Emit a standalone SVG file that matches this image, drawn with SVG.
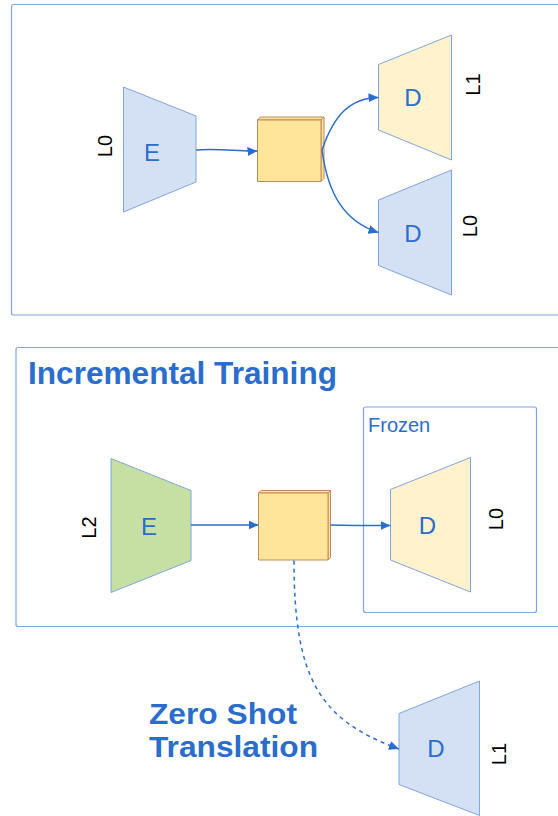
<svg xmlns="http://www.w3.org/2000/svg" width="558" height="816" viewBox="0 0 558 816">
  <style>
    .panel { fill: none; stroke: #7ea6e0; stroke-width: 1.2; }
    .trap { stroke: #7ea6e0; stroke-width: 1; }
    .blue { fill: #d4e1f5; }
    .yellow { fill: #fff2cc; }
    .green { fill: #c6e0a4; }
    .cube { fill: #ffe599; stroke: #c08a5c; stroke-width: 1; stroke-linejoin: round; }
    .letter { font-family: "Liberation Sans", Arial, sans-serif; font-size: 24px; fill: #2b6dcd; text-anchor: middle; }
    .lang { font-family: "Liberation Sans", Arial, sans-serif; font-size: 20px; fill: #000; text-anchor: middle; }
    .title { font-family: "Liberation Sans", Arial, sans-serif; font-weight: bold; fill: #2b6dcd; font-size: 31.6px; }
    .subtitle { font-family: "Liberation Sans", Arial, sans-serif; font-weight: bold; fill: #2b6dcd; font-size: 29px; }
    .caption { font-family: "Liberation Sans", Arial, sans-serif; fill: #2b6dcd; font-size: 20px; }
    .wire { fill: none; stroke: #2b6dcd; stroke-width: 1.5; }
    .dash { stroke-dasharray: 4 4; }
  </style>
  <defs>
    <marker id="arrow" markerUnits="userSpaceOnUse" markerWidth="10" markerHeight="9" refX="10" refY="4.5" orient="auto">
      <path d="M0,0 L10,4.5 L0,9 z" fill="#2b6dcd"/>
    </marker>
  </defs>

  <rect fill="#ffffff" x="0" y="0" width="558" height="816"/>

  <!-- panels and headings -->
  <g id="panels">
    <rect class="panel" x="11.5" y="4.5" width="560" height="310.5" rx="2"/>
    <rect class="panel" x="16" y="347.5" width="560" height="279" rx="2"/>
    <rect class="panel" x="363.5" y="407" width="173" height="205.5" rx="2"/>
    <text class="title" x="28" y="384">Incremental Training</text>
    <text class="caption" x="368" y="432">Frozen</text>
    <text class="subtitle" x="149" y="723.8" textLength="148" lengthAdjust="spacingAndGlyphs">Zero Shot</text>
    <text class="subtitle" x="149" y="757.2" textLength="169" lengthAdjust="spacingAndGlyphs">Translation</text>
  </g>

  <!-- top: encoder L0 -> latent -> decoders L1 / L0 -->
  <g id="enc-top">
    <polygon class="trap blue" points="123.5,87 196,116 196,182 123.5,212"/>
    <text class="letter" x="152" y="161">E</text>
    <text class="lang" x="105" y="153" transform="rotate(-90 105 146)">L0</text>
  </g>
  <g id="latent-top">
    <polygon class="cube" points="257.5,120 260.5,117 324,117 321,120"/>
    <polygon class="cube" points="321,120 324,117 324,178.5 321,181.5"/>
    <rect class="cube" x="257.5" y="120" width="63.5" height="61.5"/>
  </g>
  <g id="dec-top-l1">
    <polygon class="trap yellow" points="378.5,64.5 451.5,35 451.5,160 378.5,130"/>
    <text class="letter" x="413" y="105.5">D</text>
    <text class="lang" x="472.5" y="91.5" transform="rotate(-90 472.5 84.5)">L1</text>
  </g>
  <g id="dec-top-l0">
    <polygon class="trap blue" points="378.5,200 451.5,170 451.5,295 378.5,265.5"/>
    <text class="letter" x="413" y="241.5">D</text>
    <text class="lang" x="470" y="233" transform="rotate(-90 470 226)">L0</text>
  </g>

  <!-- middle: encoder L2 -> latent -> frozen decoder L0 -->
  <g id="enc-mid">
    <polygon class="trap green" points="111,458.5 191,490.5 191,560.5 111,592.5"/>
    <text class="letter" x="149" y="534.5">E</text>
    <text class="lang" x="89" y="534.5" transform="rotate(-90 89 527.5)">L2</text>
  </g>
  <g id="latent-mid">
    <polygon class="cube" points="258.5,493 261,490.5 330.5,490.5 328,493"/>
    <polygon class="cube" points="328,493 330.5,490.5 330.5,557.5 328,560"/>
    <rect class="cube" x="258.5" y="493" width="69.5" height="67"/>
  </g>
  <g id="dec-frozen">
    <polygon class="trap yellow" points="390.5,489.5 470.5,457.5 470.5,592 390.5,560"/>
    <text class="letter" x="427.5" y="533.5">D</text>
    <text class="lang" x="496" y="526" transform="rotate(-90 496 519)">L0</text>
  </g>

  <!-- bottom: zero-shot decoder L1 -->
  <g id="dec-zero">
    <polygon class="trap blue" points="399,713.5 479.5,681 479.5,815.5 399,784.5"/>
    <text class="letter" x="436" y="757">D</text>
    <text class="lang" x="498.5" y="761" transform="rotate(-90 498.5 754)">L1</text>
  </g>

  <!-- connectors -->
  <g id="connectors">
    <path class="wire" marker-end="url(#arrow)" d="M196,150 C220,148 240,152 257.5,151"/>
    <path class="wire" marker-end="url(#arrow)" d="M322,150 C334,115 350,98 378.5,97.5"/>
    <path class="wire" marker-end="url(#arrow)" d="M322,150 C328,195 345,222 378.5,232.5"/>
    <path class="wire" marker-end="url(#arrow)" d="M191,525 L258.5,525"/>
    <path class="wire" marker-end="url(#arrow)" d="M330.5,525 C350,525.5 370,525.5 390.5,525.5"/>
    <path class="wire dash" marker-end="url(#arrow)" d="M294,560.5 C294,680 320,720 399,749"/>
  </g>
</svg>
